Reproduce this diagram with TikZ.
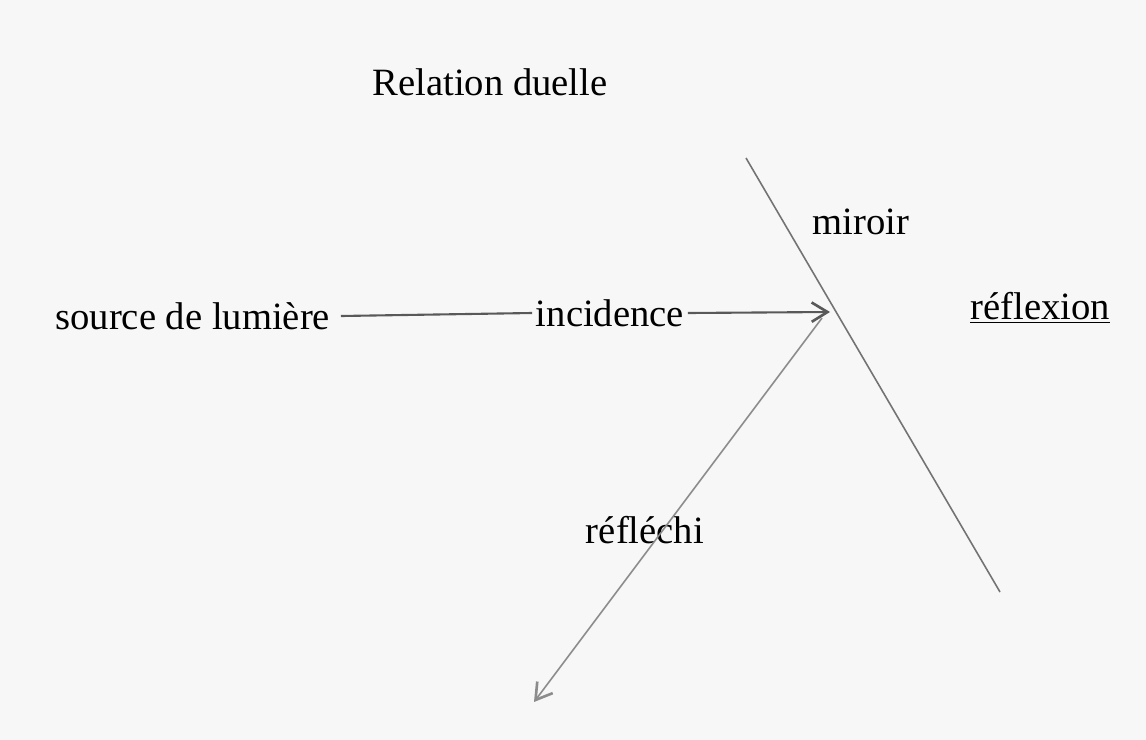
\documentclass[tikz,border=0pt]{standalone}
\usepackage{fontspec}
\setmainfont{Liberation Serif}
\usetikzlibrary{arrows.meta}
\begin{document}
\begin{tikzpicture}[x=0.02cm,y=-0.02cm,
  lbl/.style={inner sep=0pt,font=\fontsize{22}{26}\selectfont,text=black},
  ray/.style={draw=black!65,line width=1.2pt},
  tip/.style={-{Straight Barb[length=9pt,width=11pt,line width=1.5pt]}}]
\fill[black!3] (0,0) rectangle (1146,740);
\useasboundingbox (0,0) rectangle (1146,740);
% labels
\node[lbl] (title) at (490,82) {Relation duelle};
\node[lbl] (miroir) at (861,222) {miroir};
\node[lbl,anchor=west] (src) at (55,316) {source de lumière};
\node[lbl] (inc) at (610,313) {incidence};
\node[lbl,anchor=west] (refl) at (970,308) {\underline{réflexion}};
\node[lbl] (refchi) at (645,530) {réfléchi};
% mirror
\coordinate (mtop) at (746,158);
\coordinate (mbot) at (1000,592);
\draw[draw=black!55,line width=0.9pt] (mtop) -- (mbot);
% incidence ray
\coordinate (hit) at (830,312);
\draw[ray] ([xshift=6pt]src.east) -- ([xshift=-2pt]inc.west);
\draw[ray,tip] ([xshift=2pt]inc.east) -- (hit);
% reflected ray
\coordinate (rstart) at (822,318);
\coordinate (rend) at (534,702);
\draw[draw=black!45,line width=0.9pt,tip] (rstart) -- (rend);
\end{tikzpicture}
\end{document}
